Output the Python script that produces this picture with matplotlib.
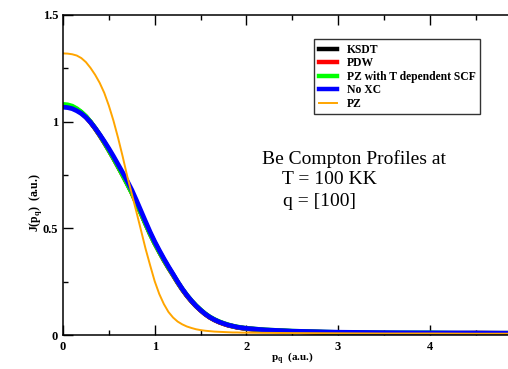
import matplotlib
matplotlib.use("Agg")
import matplotlib.pyplot as plt
from matplotlib.ticker import MultipleLocator
from matplotlib.lines import Line2D

# Momentum grid (a.u.)
p_q = [0.00, 0.05, 0.10, 0.15, 0.20, 0.25, 0.30, 0.35, 0.40, 0.45,
       0.50, 0.55, 0.60, 0.65, 0.70, 0.75, 0.80, 0.85, 0.90, 0.95,
       1.00, 1.05, 1.10, 1.15, 1.20, 1.25, 1.30, 1.35, 1.40, 1.45,
       1.50, 1.55, 1.60, 1.65, 1.70, 1.75, 1.80, 1.85, 1.90, 1.95,
       2.00, 2.20, 2.50, 3.00, 3.50, 4.00, 4.50, 5.00]

# Compton profiles J(p_q) for each exchange-correlation treatment
j_ksdt = [1.077, 1.075, 1.069, 1.058, 1.043, 1.023, 0.998, 0.969, 0.937, 0.903,
          0.867, 0.830, 0.791, 0.752, 0.711, 0.669, 0.621, 0.572, 0.523, 0.475,
          0.431, 0.391, 0.352, 0.316, 0.282, 0.247, 0.214, 0.185, 0.159, 0.136,
          0.116, 0.098, 0.083, 0.071, 0.061, 0.053, 0.046, 0.041, 0.036, 0.033,
          0.030, 0.023, 0.017, 0.010, 0.006, 0.008, 0.009, 0.008]
j_pdw = [1.076, 1.074, 1.068, 1.057, 1.042, 1.022, 0.997, 0.968, 0.936, 0.902,
         0.866, 0.829, 0.790, 0.751, 0.710, 0.668, 0.620, 0.571, 0.522, 0.474,
         0.430, 0.390, 0.351, 0.315, 0.281, 0.246, 0.214, 0.185, 0.159, 0.136,
         0.116, 0.098, 0.083, 0.071, 0.061, 0.053, 0.046, 0.041, 0.036, 0.033,
         0.030, 0.022, 0.016, 0.011, 0.009, 0.005, 0.008, 0.007]
j_pz_tscf = [1.081, 1.079, 1.073, 1.061, 1.045, 1.025, 0.999, 0.970, 0.938, 0.903,
             0.866, 0.829, 0.790, 0.750, 0.709, 0.667, 0.620, 0.571, 0.522, 0.474,
             0.430, 0.390, 0.352, 0.316, 0.283, 0.248, 0.216, 0.187, 0.161, 0.138,
             0.118, 0.100, 0.085, 0.073, 0.063, 0.055, 0.048, 0.042, 0.038, 0.034,
             0.031, 0.024, 0.018, 0.012, 0.010, 0.010, 0.006, 0.009]
j_noxc = [1.068, 1.066, 1.061, 1.051, 1.038, 1.020, 0.997, 0.970, 0.940, 0.908,
          0.874, 0.838, 0.800, 0.762, 0.722, 0.680, 0.632, 0.582, 0.532, 0.483,
          0.438, 0.397, 0.358, 0.321, 0.286, 0.250, 0.217, 0.187, 0.161, 0.137,
          0.117, 0.099, 0.084, 0.072, 0.062, 0.054, 0.047, 0.042, 0.037, 0.034,
          0.031, 0.024, 0.018, 0.013, 0.011, 0.010, 0.009, 0.008]
j_pz = [1.320, 1.319, 1.316, 1.310, 1.298, 1.279, 1.252, 1.220, 1.182, 1.135,
        1.075, 1.005, 0.925, 0.838, 0.745, 0.662, 0.578, 0.492, 0.405, 0.327,
        0.252, 0.192, 0.145, 0.108, 0.082, 0.063, 0.050, 0.040, 0.033, 0.027,
        0.023, 0.020, 0.018, 0.016, 0.015, 0.014, 0.013, 0.012, 0.012, 0.011,
        0.011, 0.010, 0.009, 0.008, 0.007, 0.007, 0.006, 0.006]

x_ticks = [0, 1, 2, 3, 4]
x_ticklabels = ["0", "1", "2", "3", "4"]
y_ticks = [0, 0.5, 1, 1.5]
y_ticklabels = ["0", "0.5", "1", "1.5"]

series = [
    ("KSDT", j_ksdt, "#000000", 3.4),
    ("PDW", j_pdw, "#ff0000", 3.4),
    ("PZ with T dependent SCF", j_pz_tscf, "#00ff00", 3.4),
    ("No XC", j_noxc, "#0000ff", 3.4),
    ("PZ", j_pz, "#ffa500", 1.4),
]

plt.rcParams["font.family"] = ["Liberation Serif", "DejaVu Serif"]
plt.rcParams["mathtext.fontset"] = "custom"
plt.rcParams["mathtext.rm"] = "Liberation Serif:bold"
plt.rcParams["mathtext.bf"] = "Liberation Serif:bold"

W, H = 508, 369
fig = plt.figure(figsize=(W / 100, H / 100), dpi=100)
x0, x5 = 63, 521.5
ax = fig.add_axes([x0 / W, 34 / H, (x5 - x0) / W, 320 / H])

for label, vals, color, lw in series:
    ax.plot(p_q, vals, color=color, lw=lw, solid_capstyle="butt",
            solid_joinstyle="round")

ax.set_xlim(0, 5)
ax.set_ylim(0, 1.5)
ax.xaxis.set_minor_locator(MultipleLocator(0.5))
ax.yaxis.set_minor_locator(MultipleLocator(0.25))
ax.set_xticks(x_ticks)
ax.set_xticklabels(x_ticklabels, fontsize=9, fontweight="bold")
ax.set_yticks(y_ticks)
ax.set_yticklabels(y_ticklabels, fontsize=9, fontweight="bold")
ax.tick_params(which="both", direction="in", top=True, right=True,
               width=1.0, color="black")
ax.tick_params(which="major", length=7)
ax.tick_params(which="minor", length=3.6)
ax.tick_params(axis="x", pad=4)
ax.tick_params(axis="y", pad=3.5)
for s in ax.spines.values():
    s.set_linewidth(1.1)

fig.text(292 / W, 1 - 359 / H, r"p$_\mathrm{q}$  (a.u.)", fontsize=8,
         fontweight="bold", ha="center", va="center")
fig.text(35 / W, 1 - 203 / H, r"J(p$_\mathrm{q}$)  (a.u.)", fontsize=8.5,
         fontweight="bold", ha="center", va="center", rotation=90)

handles = [Line2D([], [], color=c, lw=3.2 if lw > 2 else 1.4)
           for _, _, c, lw in series]
leg = fig.legend(handles, [s[0] for s in series], loc="upper left",
                 bbox_to_anchor=(314 / W, 1 - 39 / H), borderaxespad=0,
                 prop={"size": 8.4, "weight": "bold"}, frameon=True,
                 fancybox=False, handlelength=1.6, handletextpad=0.8,
                 labelspacing=0.13, borderpad=0.4)
leg.get_frame().set_edgecolor("black")
leg.get_frame().set_linewidth(1.0)

fig.text(262 / W, 1 - 164 / H, "Be Compton Profiles at", fontsize=14)
fig.text(282 / W, 1 - 184 / H, "T = 100 KK", fontsize=14)
fig.text(283 / W, 1 - 206 / H, "q = [100]", fontsize=14)

fig.savefig("out.png", dpi=100)
